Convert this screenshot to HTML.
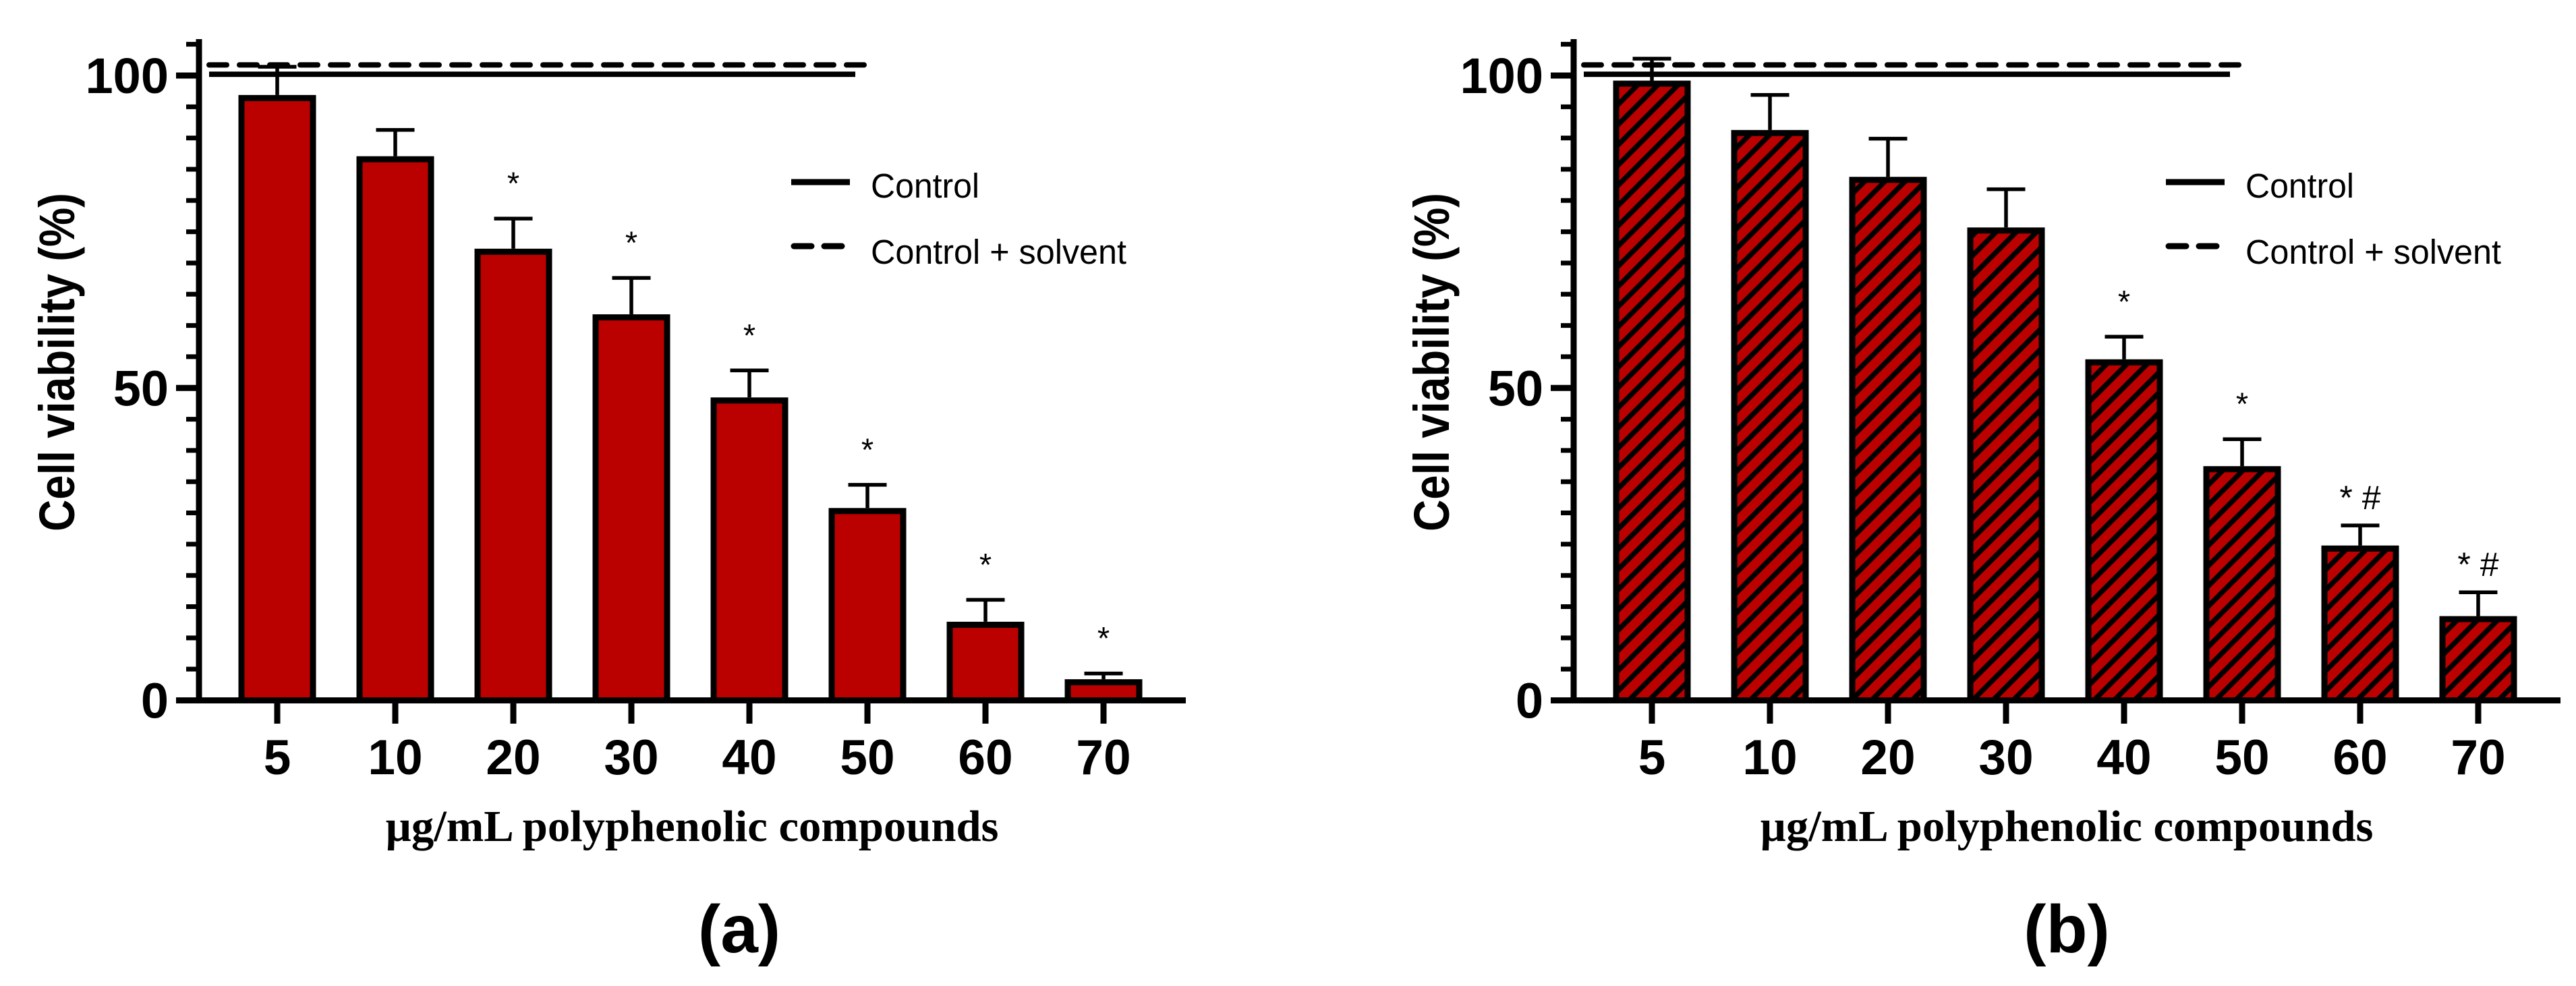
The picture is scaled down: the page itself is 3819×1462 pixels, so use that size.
<!DOCTYPE html>
<html><head><meta charset="utf-8"><style>
html,body{margin:0;padding:0;background:#fff;}
svg{display:block;}
</style></head><body>
<svg id="chart" xmlns="http://www.w3.org/2000/svg" width="3819" height="1462" viewBox="0 0 3819 1462">
<defs>
<pattern id="hatch" patternUnits="userSpaceOnUse" width="21.2" height="21.2" patternTransform="rotate(45)">
<rect x="0" y="0" width="21.2" height="21.2" fill="#bb0000"/>
<rect x="0" y="0" width="7.5" height="21.2" fill="#000"/>
</pattern>
</defs>
<rect x="0" y="0" width="3819" height="1462" fill="#fff"/>
<g id="panels"></g>
</svg>
<script>
const categories = ["5","10","20","30","40","50","60","70"];
const viabilityA = [96.4, 86.6, 71.8, 61.3, 48.0, 30.3, 12.1, 2.9];
const errorA = [5.0, 4.7, 5.3, 6.3, 4.8, 4.2, 4.0, 1.4];
const marksA = ["", "", "*", "*", "*", "*", "*", "*"];
const viabilityB = [98.7, 90.8, 83.3, 75.2, 54.1, 37.0, 24.3, 13.0];
const errorB = [4.0, 6.1, 6.6, 6.6, 4.1, 4.8, 3.7, 4.3];
const marksB = ["", "", "", "", "*", "*", "* #", "* #"];
const yTicks = [0, 50, 100];
const controlLevel = 100.2;
const solventLevel = 101.7;

const NS = "http://www.w3.org/2000/svg";
const root = document.getElementById("panels");
const Y0 = 1038.5, PXU = 9.265;
function yScale(v){ return Y0 - v*PXU; }
function xScale(i, off){ return 411 + i*175 + off; }
function mk(tag, attrs, parent){
  const e = document.createElementNS(NS, tag);
  for (const k in attrs) e.setAttribute(k, attrs[k]);
  parent.appendChild(e);
  return e;
}

function panel(off, vals, errs, marks, hatched, letter, letterX, key){
  const g = mk("g", {}, root);
  
  
  const ax = 295 + off;
  vals.forEach((v, i) => {
    const c = xScale(i, off);
    const top = yScale(v);
    const bar = mk("rect", {x: c-53, y: top, width: 106, height: Y0 - top, fill: hatched ? "url(#hatch)" : "#bb0000", stroke: "#000", "stroke-width": 9}, g);
    
    
    const et = yScale(v + errs[i]);
    const eb = mk("path", {d: `M${c},${top-4.5}V${et}M${c-28.5},${et}H${c+28.5}`, stroke: "#000", "stroke-width": 5.5, fill: "none"}, g);
    
    
    if (marks[i]) {
      const m = mk("text", {x: c, y: marks[i].length > 1 ? et - 24 : et - 36, "text-anchor": "middle", "font-family": "Liberation Sans, sans-serif", "font-size": marks[i].length > 1 ? 50 : 47}, g);
      m.textContent = marks[i];
      
      
    }
    const t = mk("line", {x1: c, x2: c, y1: Y0, y2: 1073, stroke: "#000", "stroke-width": 9}, g);
    
    
    const tl = mk("text", {x: c, y: 1148, "text-anchor": "middle", "font-family": "Liberation Sans, sans-serif", "font-weight": "bold", "font-size": 73}, g);
    tl.textContent = categories[i];
    
    
  });
  const cl = mk("line", {x1: 310+off, x2: 1268+off, y1: yScale(controlLevel), y2: yScale(controlLevel), stroke: "#000", "stroke-width": 8}, g);
  
  
  const sl = mk("line", {x1: 310+off, x2: 1284+off, y1: yScale(solventLevel), y2: yScale(solventLevel), stroke: "#000", "stroke-width": 8, "stroke-dasharray": "26 19", "stroke-linecap": "round"}, g);
  
  
  const ya = mk("path", {d: `M${ax},58V${Y0+4.5}`, stroke: "#000", "stroke-width": 9, fill: "none"}, g);
  
  
  for (let v = 5; v <= 105; v += 5) {
    const major = yTicks.indexOf(v) >= 0;
    const tk = mk("line", {x1: major ? 261+off : 276+off, x2: ax, y1: yScale(v), y2: yScale(v), stroke: "#000", "stroke-width": major ? 9 : 7}, g);
    
    
  }
  yTicks.forEach(v => {
    const t = mk("text", {x: 250+off, y: yScale(v)+26, "text-anchor": "end", "font-family": "Liberation Sans, sans-serif", "font-weight": "bold", "font-size": 74}, g);
    t.textContent = String(v);
    
    
  });
  const xa = mk("line", {x1: 261+off, x2: 1758+off, y1: Y0, y2: Y0, stroke: "#000", "stroke-width": 9}, g);
  
  
  const yt = mk("text", {x: 0, y: 0, transform: `translate(${110+off},537) rotate(-90)`, "text-anchor": "middle", "font-family": "Liberation Sans, sans-serif", "font-weight": "bold", "font-size": 74, textLength: 502, lengthAdjust: "spacingAndGlyphs"}, g);
  yt.textContent = "Cell viability (%)";
  
  
  const xt = mk("text", {x: 1026+off, y: 1247, "text-anchor": "middle", "font-family": "Liberation Serif, serif", "font-weight": "bold", "font-size": 66, textLength: 909, lengthAdjust: "spacingAndGlyphs"}, g);
  xt.textContent = "µg/mL polyphenolic compounds";
  
  
  const lg = mk("g", {}, g);
  
  
  const l1 = mk("line", {x1: 1173+off, x2: 1260+off, y1: 270, y2: 270, stroke: "#000", "stroke-width": 9}, lg);
  
  
  const t1 = mk("text", {x: 1291+off, y: 293, "font-family": "Liberation Sans, sans-serif", "font-size": 51, textLength: 161, lengthAdjust: "spacingAndGlyphs"}, lg);
  t1.textContent = "Control";
  
  
  const l2 = mk("line", {x1: 1177+off, x2: 1256+off, y1: 365, y2: 365, stroke: "#000", "stroke-width": 9, "stroke-dasharray": "26 19", "stroke-linecap": "round"}, lg);
  
  
  const t2 = mk("text", {x: 1291+off, y: 391, "font-family": "Liberation Sans, sans-serif", "font-size": 51, textLength: 379, lengthAdjust: "spacingAndGlyphs"}, lg);
  t2.textContent = "Control + solvent";
  
  
  const pl = mk("text", {x: letterX, y: 1412, "text-anchor": "middle", "font-family": "Liberation Sans, sans-serif", "font-weight": "bold", "font-size": 100}, g);
  pl.textContent = letter;
  
  
}

panel(0, viabilityA, errorA, marksA, false, "(a)", 1096, "a");
panel(2038, viabilityB, errorB, marksB, true, "(b)", 3064, "b");
</script>
</body></html>
